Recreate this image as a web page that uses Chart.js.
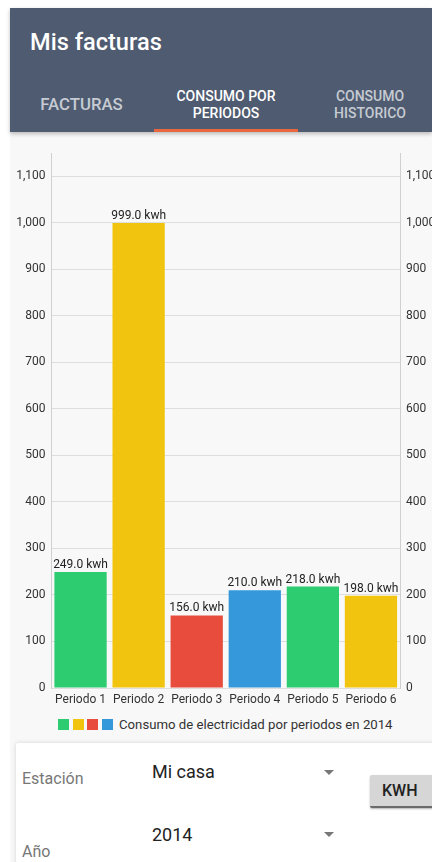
<!DOCTYPE html>
<html><head><meta charset="utf-8">
<script src="https://cdn.jsdelivr.net/npm/chart.js@4/dist/chart.umd.min.js"></script>
<style>
html,body{margin:0;padding:0;width:432px;height:862px;overflow:hidden;background:#fff;font-family:Roboto,"Noto Sans",sans-serif;}
#wrap{position:absolute;left:0;top:0;width:432px;height:862px;overflow:hidden;}
#bg{position:absolute;left:10px;top:132px;width:422px;height:730px;background:#f8f8f8;}
#header{position:absolute;left:10px;top:8px;width:422px;height:124px;background:#4f5b70;box-shadow:0 2px 4px rgba(0,0,0,0.25);}
#title{position:absolute;left:20px;top:20px;color:#fff;font-size:23.6px;font-weight:500;}
.tab{position:absolute;text-align:center;font-size:14px;font-weight:500;line-height:17px;}
#ul{position:absolute;left:144px;top:121px;width:144px;height:3px;background:#e8673f;}
#cw{position:absolute;left:10px;top:140px;width:430px;height:570px;}
#legend{position:absolute;left:58px;top:717px;height:14px;display:flex;align-items:center;font-size:13.2px;color:#333;}
.sw{width:11px;height:11px;margin-right:3.5px;}
#card{position:absolute;left:16px;top:743px;width:430px;height:130px;background:#fff;box-shadow:0 0 4px rgba(0,0,0,0.15);border-radius:2px;}
.lbl{position:absolute;color:#777;font-size:16px;}
.val{position:absolute;color:#222;font-size:18px;}
.tri{position:absolute;width:0;height:0;border-left:5px solid transparent;border-right:5px solid transparent;border-top:5px solid #777;}
#btn{position:absolute;left:370px;top:775px;width:70px;height:31px;background:#d6d6d6;border-bottom:2px solid #6b6b6b;box-shadow:0 1px 2px rgba(0,0,0,0.3);font-size:16px;font-weight:500;color:#222;text-align:left;line-height:31px;border-radius:2px 0 0 2px;}
</style></head><body>
<div id="wrap">
<div id="bg"></div>
<div id="header">
  <div id="title">Mis facturas</div>
  <div class="tab" style="left:20px;top:86px;width:103px;color:#c6cbd3;font-size:16.8px;line-height:20px;">FACTURAS</div>
  <div class="tab" style="left:140px;top:80px;width:152px;color:#fff;">CONSUMO POR<br>PERIODOS</div>
  <div class="tab" style="left:305px;top:80px;width:110px;color:#c6cbd3;">CONSUMO<br>HISTORICO</div>
  <div id="ul"></div>
</div>
<div id="cw"><canvas id="c" width="430" height="570"></canvas></div>
<div id="legend"></div>
<div id="card"></div>
<div class="lbl" style="left:22px;top:769px;">Estación</div>
<div class="val" style="left:152px;top:761px;">Mi casa</div>
<div class="tri" style="left:324px;top:770px;"></div>
<div id="btn"><span style="margin-left:12px">KWH</span></div>
<div class="val" style="left:152px;top:824px;">2014</div>
<div class="tri" style="left:324px;top:832px;"></div>
<div class="lbl" style="left:22px;top:842px;">Año</div>
</div>
<script>
const categories = ["Periodo 1","Periodo 2","Periodo 3","Periodo 4","Periodo 5","Periodo 6"];
const consumo = [249, 999, 156, 210, 218, 198];
const barColors = ["#2ecc71","#f1c40f","#e74c3c","#3498db","#2ecc71","#f1c40f"];
const legendColors = ["#2ecc71","#f1c40f","#e74c3c","#3498db"];
const legendText = "Consumo de electricidad por periodos en 2014";
const unit = "kwh";

const lg = document.getElementById('legend');
legendColors.forEach(c=>{const d=document.createElement('div');d.className='sw';d.style.background=c;lg.appendChild(d);});
const t=document.createElement('span');t.textContent=legendText;t.style.marginLeft='3px';lg.appendChild(t);

const FONT = {family:"Roboto", size:12};
const valueLabels = {
  id:'valueLabels',
  afterDatasetsDraw(chart){
    const ctx=chart.ctx; const meta=chart.getDatasetMeta(0);
    ctx.save(); ctx.font="12px Roboto"; ctx.fillStyle="#222"; ctx.textAlign="center"; ctx.textBaseline="alphabetic";
    meta.data.forEach((bar,i)=>{
      ctx.fillText(consumo[i].toFixed(1)+" "+unit, bar.x, bar.y-4);
    });
    ctx.restore();
  }
};
const filt = s => { s.ticks = s.ticks.filter(t => t.value % 100 === 0); };
new Chart(document.getElementById('c'), {
  type:'bar',
  data:{labels:categories, datasets:[{label:legendText, data:consumo, backgroundColor:barColors, barPercentage:0.9, categoryPercentage:1.0, yAxisID:'y'}]},
  options:{
    responsive:false, animation:false,
    layout:{padding:{top:10,left:0,right:0,bottom:0}},
    plugins:{legend:{display:false}, tooltip:{enabled:false}},
    scales:{
      x:{grid:{display:false, drawTicks:false}, border:{display:false},
         ticks:{color:"#333", font:FONT, padding:5, maxRotation:0, autoSkip:false},
         afterFit(s){s.height=22;}},
      y:{position:'left', min:0, max:1149, afterBuildTicks:filt,
         grid:{color:"#dedede", drawTicks:false, lineWidth:1},
         border:{display:true, color:"#d0d0d0"},
         ticks:{stepSize:100, color:"#333", font:FONT, padding:6},
         afterFit(s){s.width=41.5;}},
      y2:{position:'right', min:0, max:1149, afterBuildTicks:filt,
         grid:{display:false, drawTicks:false},
         border:{display:true, color:"#d0d0d0"},
         ticks:{stepSize:100, color:"#333", font:FONT, padding:6},
         afterFit(s){s.width=40;}}
    }
  },
  plugins:[valueLabels]
});
</script>
</body></html>
